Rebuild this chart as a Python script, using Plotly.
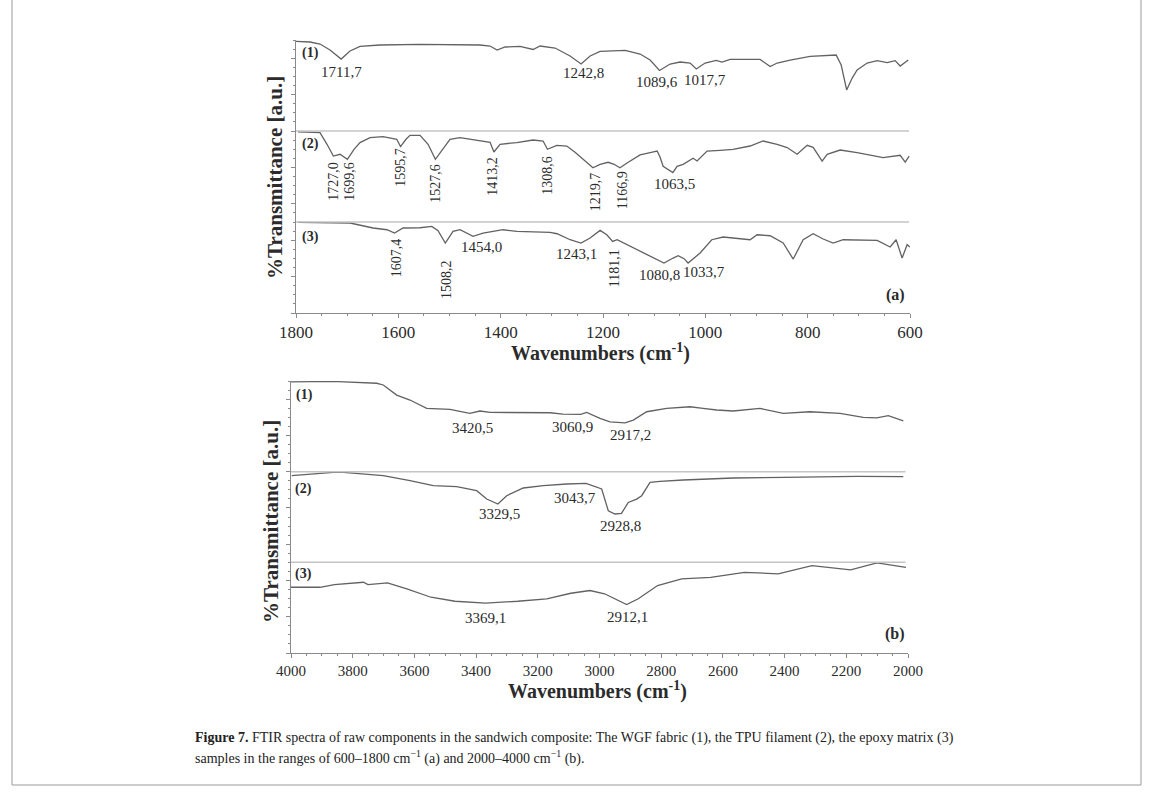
import plotly.graph_objects as go

FONT = "Liberation Serif, Times New Roman, serif"
LINE = "#626262"
TXT = "#2b2b2b"
W, H = 1153, 798

# ---------------- Panel (a): 1800-600 cm-1 ----------------
wn_a1 = [1800, 1772.6, 1753.1, 1733.5, 1711.7, 1694.4, 1674.9, 1635.8, 1557.6, 1499, 1440.3,
         1420.7, 1407, 1391.4, 1362.1, 1336.7, 1323, 1293.7, 1264.3, 1242.8, 1225.2, 1205.7,
         1156.8, 1127.5, 1107.9, 1089.6, 1068.8, 1049.3, 1029.7, 1017.7, 1000.4, 978.9, 967.2,
         951.5, 892.9, 873.3, 859.6, 834.2, 795.1, 744.3, 734.5, 723.8, 713, 703.3, 683.7,
         664.2, 644.6, 629, 619.2, 603.5]
t_a1 = [0.984, 0.978, 0.956, 0.890, 0.791, 0.879, 0.929, 0.945, 0.951, 0.951, 0.945,
        0.934, 0.890, 0.923, 0.929, 0.896, 0.934, 0.912, 0.824, 0.736, 0.824, 0.874,
        0.885, 0.846, 0.780, 0.665, 0.736, 0.758, 0.747, 0.681, 0.747, 0.775, 0.758,
        0.786, 0.786, 0.709, 0.747, 0.780, 0.819, 0.835, 0.725, 0.451, 0.582, 0.670, 0.747,
        0.773, 0.751, 0.773, 0.714, 0.780]

wn_a2 = [1796, 1753.1, 1739.4, 1727.0, 1714, 1699.6, 1686.6, 1674.9, 1655.3, 1629.9, 1603.1,
         1595.7, 1585, 1577.1, 1557.6, 1541.9, 1527.6, 1512.6, 1499, 1479.4, 1434.4, 1420.7,
         1413.2, 1401.2, 1368.5, 1336.7, 1317.1, 1308.6, 1290.3, 1270.8, 1254.6, 1238.9,
         1219.7, 1205.7, 1190, 1178.3, 1166.9, 1150.7, 1127.5, 1107.9, 1094.2, 1088.4, 1082.5,
         1063.5, 1055.2, 1043.4, 1023.9, 1016.1, 996.6, 971.2, 945.8, 912.5, 887.1, 859.7,
         840.1, 820.6, 801, 789.3, 771.7, 761.9, 736.5, 703.3, 652.4, 619.2, 609.4, 601.6]
t_a2 = [0.991, 0.982, 0.854, 0.725, 0.744, 0.689, 0.799, 0.873, 0.927, 0.938, 0.909,
        0.829, 0.909, 0.953, 0.953, 0.854, 0.689, 0.799, 0.909, 0.927, 0.890, 0.876,
        0.769, 0.854, 0.873, 0.901, 0.890, 0.799, 0.843, 0.835, 0.766, 0.689,
        0.596, 0.634, 0.656, 0.634, 0.596, 0.656, 0.738, 0.763, 0.780, 0.711, 0.612,
        0.543, 0.612, 0.634, 0.700, 0.670, 0.780, 0.788, 0.799, 0.835, 0.890, 0.854,
        0.818, 0.744, 0.843, 0.821, 0.670, 0.744, 0.791, 0.763, 0.708, 0.733, 0.659, 0.725]

wn_a3 = [1796, 1694.4, 1649.4, 1622.1, 1607.4, 1590.8, 1557.6, 1534.6, 1522.4, 1508.2, 1493.1,
         1479.4, 1454.0, 1434.4, 1395.4, 1368, 1303.5, 1289.8, 1264.3, 1243.1, 1225.2, 1205.7,
         1192.6, 1181.1, 1172.4, 1147, 1107.9, 1080.8, 1062.9, 1053.2, 1041.5, 1033.7, 1010.2,
         987.4, 965.2, 926.1, 912.5, 898.8, 873.3, 847.9, 828.3, 808.8, 789.3, 769.7, 750.2,
         730.6, 691.5, 664.2, 638.8, 627.1, 615.4, 605.6, 600]
t_a3 = [0.995, 0.989, 0.934, 0.915, 0.879, 0.934, 0.937, 0.952, 0.904, 0.769, 0.897,
        0.915, 0.842, 0.879, 0.915, 0.897, 0.886, 0.871, 0.805, 0.769, 0.824, 0.908,
        0.860, 0.787, 0.805, 0.732, 0.622, 0.549, 0.604, 0.630, 0.597, 0.549, 0.659,
        0.805, 0.835, 0.813, 0.805, 0.860, 0.849, 0.769, 0.593, 0.805, 0.871, 0.813, 0.769,
        0.805, 0.805, 0.798, 0.725, 0.805, 0.604, 0.751, 0.725]

# ---------------- Panel (b): 4000-2000 cm-1 ----------------
wn_b1 = [4000, 3863.9, 3722.2, 3700.8, 3657.4, 3614.3, 3560.1, 3484.6, 3420.5, 3387.4, 3354.9,
         3160.4, 3118.3, 3060.9, 3041.5, 2998.4, 2965.9, 2917.2, 2890.4, 2847, 2782.2, 2706.6,
         2664.5, 2620.1, 2566.3, 2479.8, 2404.2, 2317.7, 2220.4, 2144.9, 2101.4, 2063.8, 2015.2]
t_b1 = [0.990, 0.995, 0.975, 0.956, 0.845, 0.790, 0.698, 0.687, 0.643, 0.669, 0.654,
        0.650, 0.635, 0.632, 0.654, 0.588, 0.550, 0.539, 0.569, 0.661, 0.698, 0.716,
        0.698, 0.680, 0.669, 0.698, 0.643, 0.661, 0.643, 0.599, 0.594, 0.617, 0.561]

wn_b2 = [3997.7, 3862.9, 3830.5, 3700.8, 3614.3, 3538.7, 3462.9, 3398.1, 3365.6, 3329.5, 3300.8,
         3247, 3182.1, 3106.3, 3043.7, 2992.9, 2971.5, 2949.8, 2928.8, 2906.7, 2879.4, 2863.2,
         2836.3, 2803.9, 2728.4, 2566.3, 2404.2, 2166.3, 2015.2]
t_b2 = [0.956, 0.992, 0.992, 0.956, 0.901, 0.845, 0.834, 0.790, 0.698, 0.643, 0.735,
        0.820, 0.845, 0.864, 0.871, 0.809, 0.569, 0.533, 0.539, 0.661, 0.698, 0.735,
        0.882, 0.893, 0.908, 0.930, 0.937, 0.948, 0.945]

wn_b3 = [4000, 3906, 3859.3, 3765.3, 3750.4, 3687.2, 3624.6, 3546.2, 3468.4, 3369.1, 3265.2,
         3171.1, 3093, 3030.8, 2983.4, 2912.1, 2874.2, 2811.7, 2733.5, 2639.5, 2530, 2420.8,
         2311.2, 2186.1, 2100.5, 2061.6, 2006.5]
t_b3 = [0.725, 0.725, 0.755, 0.780, 0.755, 0.774, 0.708, 0.615, 0.571, 0.549, 0.571,
        0.598, 0.659, 0.689, 0.653, 0.535, 0.598, 0.744, 0.818, 0.835, 0.890, 0.873,
        0.964, 0.916, 0.993, 0.971, 0.945]

# Peak labels: text, strip (1 top .. 3 bottom), label height inside strip, rotation, x nudge (px)
peaks_a = [
    ("1711,7", 1, 0.648, 0, 0), ("1242,8", 1, 0.637, 0, 2), ("1089,6", 1, 0.538, 0, -2),
    ("1017,7", 1, 0.560, 0, 9),
    ("1727,0", 2, 0.447, -90, 0), ("1699,6", 2, 0.447, -90, 2), ("1595,7", 2, 0.601, -90, 0),
    ("1527,6", 2, 0.425, -90, 0), ("1413,2", 2, 0.508, -90, -1), ("1308,6", 2, 0.513, -90, 0),
    ("1219,7", 2, 0.337, -90, 2), ("1166,9", 2, 0.348, -90, 2), ("1063,5", 2, 0.414, 0, 2),
    ("1607,4", 3, 0.608, -90, 2), ("1508,2", 3, 0.366, -90, 1), ("1454,0", 3, 0.729, 0, 8),
    ("1243,1", 3, 0.652, 0, -4), ("1181,1", 3, 0.487, -90, 2), ("1080,8", 3, 0.421, 0, -4),
    ("1033,7", 3, 0.454, 0, 16),
]
peaks_b = [
    ("3420,5", 1, 0.481, 0, 3), ("3060,9", 1, 0.492, 0, -8), ("2917,2", 1, 0.403, 0, 5),
    ("3329,5", 2, 0.536, 0, 2), ("3043,7", 2, 0.713, 0, -11), ("2928,8", 2, 0.403, 0, -1),
    ("3369,1", 3, 0.381, 0, 0), ("2912,1", 3, 0.392, 0, 1),
]

spectra_a = [(wn_a1, t_a1), (wn_a2, t_a2), (wn_a3, t_a3)]
spectra_b = [(wn_b1, t_b1), (wn_b2, t_b2), (wn_b3, t_b3)]

fig = go.Figure()

# stacked spectra: strip 1 at the top (offset 2), strip 3 at the bottom (offset 0)
for (xa, ya), (xb, yb), off in zip(spectra_a, spectra_b, [2, 1, 0]):
    fig.add_trace(go.Scatter(x=xa, y=[v + off for v in ya], mode="lines",
                             line=dict(color=LINE, width=1.3), xaxis="x", yaxis="y",
                             showlegend=False, hoverinfo="skip"))
    fig.add_trace(go.Scatter(x=xb, y=[v + off for v in yb], mode="lines",
                             line=dict(color=LINE, width=1.3), xaxis="x2", yaxis="y2",
                             showlegend=False, hoverinfo="skip"))

def px(v):
    return v / W

def py(v):
    return 1 - v / H

tickfont_a = dict(family=FONT, size=17, color=TXT)
tickfont_b = dict(family=FONT, size=15, color=TXT)
axis_common = dict(showgrid=False, zeroline=False, showline=True, linecolor="#8a8a8a",
                   linewidth=1, ticks="outside", tickcolor="#8a8a8a", ticklen=4,
                   automargin=False)

fig.update_layout(
    width=W, height=H, autosize=False,
    margin=dict(l=0, r=0, t=0, b=0, pad=0, autoexpand=False),
    paper_bgcolor="white", plot_bgcolor="rgba(0,0,0,0)",
    xaxis=dict(domain=[px(296), px(910)], range=[1800, 600], anchor="y",
               tickvals=[1800, 1600, 1400, 1200, 1000, 800, 600], tickfont=tickfont_a,
               minor=dict(dtick=50, ticklen=2, tickcolor="#8a8a8a", ticks="outside"),
               **axis_common),
    yaxis=dict(domain=[py(313), py(40)], range=[0, 3], anchor="x", showticklabels=False,
               tick0=0, dtick=0.4,
               minor=dict(dtick=0.1, ticklen=2, tickcolor="#8a8a8a", ticks="outside"),
               **axis_common),
    xaxis2=dict(domain=[px(291), px(908)], range=[4000, 2000], anchor="y2",
                tickvals=list(range(4000, 1999, -200)), tickfont=tickfont_b,
                minor=dict(dtick=50, ticklen=2, tickcolor="#8a8a8a", ticks="outside"),
                **axis_common),
    yaxis2=dict(domain=[py(653), py(381)], range=[0, 3], anchor="x2", showticklabels=False,
                tick0=0, dtick=0.4,
                minor=dict(dtick=0.1, ticklen=2, tickcolor="#8a8a8a", ticks="outside"),
                **axis_common),
)

# strip separators
shapes = []
for yv in (1, 2):
    shapes.append(dict(type="line", xref="x", yref="y", x0=1800, x1=602, y0=yv, y1=yv,
                       line=dict(color="#c4c4c4", width=1.5)))
    shapes.append(dict(type="line", xref="x2", yref="y2", x0=4000, x1=2008, y0=yv, y1=yv,
                       line=dict(color="#c4c4c4", width=1.5)))
# figure frame
shapes += [
    dict(type="line", xref="paper", yref="paper", x0=px(12), x1=px(12), y0=py(785), y1=1,
         line=dict(color="#9a9a9a", width=1)),
    dict(type="line", xref="paper", yref="paper", x0=px(12), x1=px(1141), y0=py(785), y1=py(785),
         line=dict(color="#9a9a9a", width=1)),
    dict(type="line", xref="paper", yref="paper", x0=px(1141), x1=px(1141), y0=py(785), y1=1,
         line=dict(color="#9a9a9a", width=1)),
]
fig.update_layout(shapes=shapes)

ann = []
def peak_ann(items, xr, yr):
    for text, strip, v, ang, dx in items:
        ann.append(dict(x=float(text.replace(",", ".")), y=(3 - strip) + v, xref=xr, yref=yr,
                        text=text, showarrow=False, textangle=ang, xshift=dx,
                        xanchor="center", yanchor="middle",
                        font=dict(family=FONT, size=15 if ang == 0 else 14, color=TXT)))

peak_ann(peaks_a, "x", "y")
peak_ann(peaks_b, "x2", "y2")

# strip tags and panel letters
for txt, x, y in [("(1)", 1772, 2.857), ("(2)", 1772, 1.854), ("(3)", 1772, 0.838), ("(a)", 629, 0.201)]:
    ann.append(dict(x=x, y=y, xref="x", yref="y", text="<b>%s</b>" % txt, showarrow=False,
                    xanchor="center", yanchor="middle",
                    font=dict(family=FONT, size=14 if txt != "(a)" else 16, color=TXT)))
for txt, x, y in [("(1)", 3955, 2.845), ("(2)", 3961, 1.812), ("(3)", 3961, 0.876), ("(b)", 2043, 0.205)]:
    ann.append(dict(x=x, y=y, xref="x2", yref="y2", text="<b>%s</b>" % txt, showarrow=False,
                    xanchor="center", yanchor="middle",
                    font=dict(family=FONT, size=14 if txt != "(b)" else 16, color=TXT)))

# axis titles
title_font = dict(family=FONT, size=20, color=TXT)
ytitle_font = dict(family=FONT, size=21, color=TXT)
ann += [
    dict(x=px(600), y=py(353), xref="paper", yref="paper", showarrow=False,
         xanchor="center", yanchor="middle",
         text="<b>Wavenumbers (cm<sup>-1</sup>)</b>", font=title_font),
    dict(x=px(598), y=py(690), xref="paper", yref="paper", showarrow=False,
         xanchor="center", yanchor="middle",
         text="<b>Wavenumbers (cm<sup>-1</sup>)</b>", font=title_font),
    dict(x=px(275), y=py(178), xref="paper", yref="paper", showarrow=False, textangle=-90,
         xanchor="center", yanchor="middle",
         text="<b>%Transmittance [a.u.]</b>", font=ytitle_font),
    dict(x=px(271), y=py(522), xref="paper", yref="paper", showarrow=False, textangle=-90,
         xanchor="center", yanchor="middle",
         text="<b>%Transmittance [a.u.]</b>", font=ytitle_font),
]

# caption
cap_font = dict(family=FONT, size=14, color="#222222")
ann += [
    dict(x=px(193), y=py(738), xref="paper", yref="paper", xanchor="left", yanchor="middle",
         showarrow=False,
         text="<b>Figure 7.</b> FTIR spectra of raw components in the sandwich composite: The WGF fabric (1), "
              "the TPU filament (2), the epoxy matrix (3)", font=cap_font),
    dict(x=px(193), y=py(757), xref="paper", yref="paper", xanchor="left", yanchor="middle",
         showarrow=False,
         text="samples in the ranges of 600\u20131800 cm<sup>\u22121</sup> (a) and 2000\u20134000 cm<sup>\u22121</sup> (b).",
         font=cap_font),
]
fig.update_layout(annotations=ann)

fig.write_html("out.html")
